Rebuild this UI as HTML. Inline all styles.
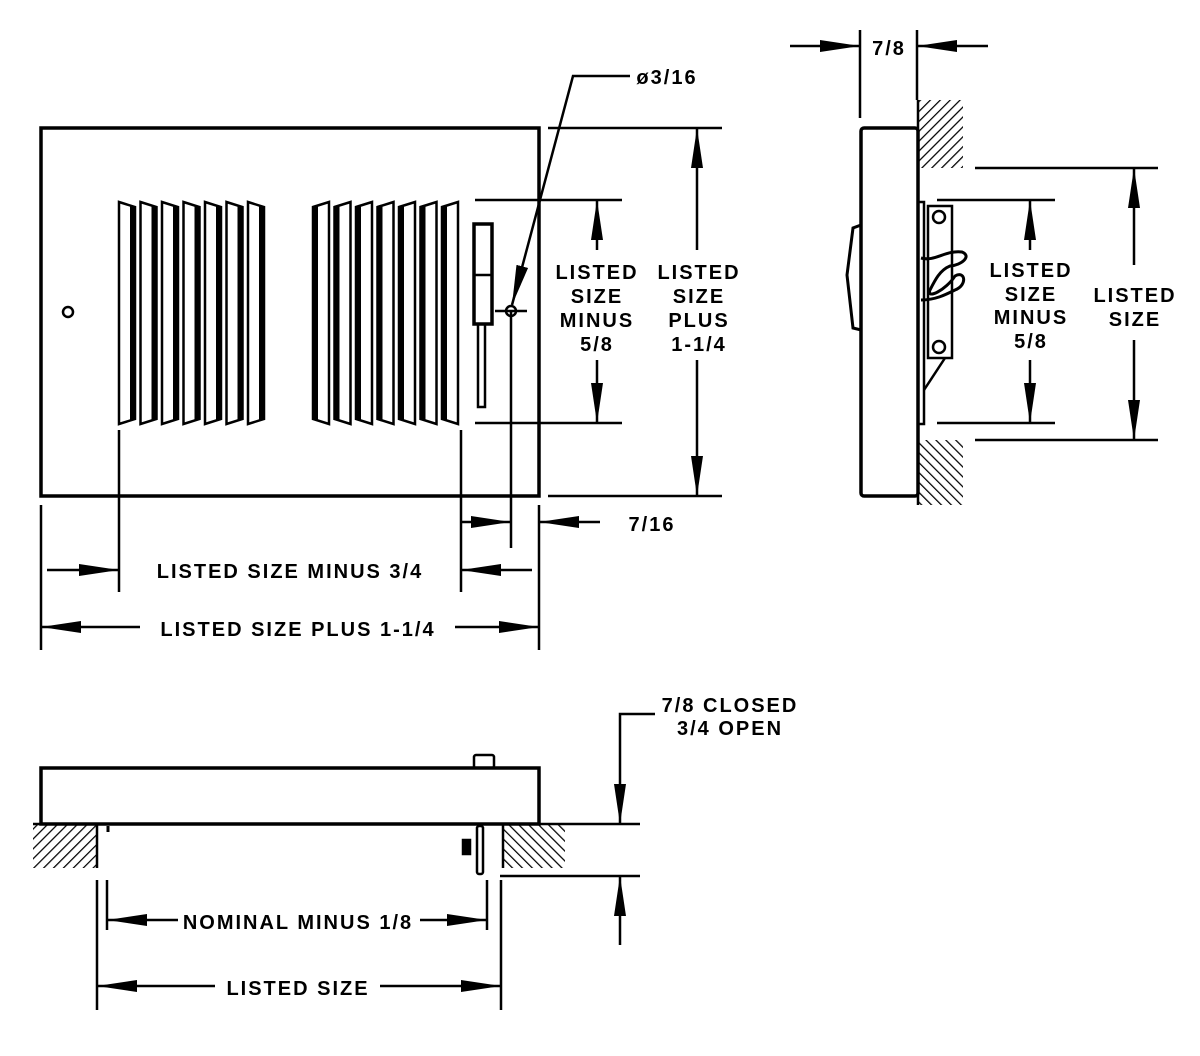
<!DOCTYPE html>
<html><head><meta charset="utf-8"><style>
html,body{margin:0;padding:0;background:#fff;}
svg{display:block}
text{font-family:"Liberation Sans",sans-serif;font-size:20px;font-weight:bold;letter-spacing:2px;fill:#000;text-anchor:middle}
</style></head><body>
<svg width="1200" height="1056" viewBox="0 0 1200 1056" xmlns="http://www.w3.org/2000/svg">
<defs>
<marker id="b" viewBox="0 0 40 12" refX="40" refY="6" markerWidth="40" markerHeight="12" markerUnits="userSpaceOnUse" orient="auto"><path d="M0,0 L40,6 L0,12 z" fill="#000"/></marker>
<pattern id="h1" width="7" height="7" patternUnits="userSpaceOnUse" patternTransform="rotate(45)"><line x1="0" y1="0" x2="0" y2="7" stroke="#000" stroke-width="2.5"/></pattern>
<pattern id="h2" width="7" height="7" patternUnits="userSpaceOnUse" patternTransform="rotate(-45)"><line x1="0" y1="0" x2="0" y2="7" stroke="#000" stroke-width="2.5"/></pattern>
</defs>
<g fill="none" stroke="#000" stroke-width="2.5">
<!-- front view -->
<rect x="41" y="128" width="498" height="368" stroke-width="3.5"/>
<circle cx="68" cy="312" r="5"/>
<g stroke-width="2.5">
<g id="L">
<polygon points="119,202 135,207 135,419 119,424"/><line x1="132" y1="206" x2="132" y2="420" stroke-width="4"/>
</g>
<use href="#L" x="21.5"/><use href="#L" x="43"/><use href="#L" x="64.5"/><use href="#L" x="86"/><use href="#L" x="107.5"/><use href="#L" x="129"/>
<g id="R">
<polygon points="313,207 329,202 329,424 313,419"/><line x1="316" y1="206" x2="316" y2="420" stroke-width="4"/>
</g>
<use href="#R" x="21.5"/><use href="#R" x="43"/><use href="#R" x="64.5"/><use href="#R" x="86"/><use href="#R" x="107.5"/><use href="#R" x="129"/>
</g>
<rect x="474" y="224" width="18" height="100" stroke-width="3.5"/>
<line x1="474" y1="275" x2="492" y2="275"/>
<rect x="478" y="324" width="7" height="83"/>
<circle cx="511" cy="311" r="5"/>
<line x1="495" y1="311" x2="527" y2="311"/>
<line x1="511" y1="311" x2="511" y2="548"/>
<polyline points="630,76 573,76 512,305" marker-end="url(#b)"/>
<line x1="475" y1="200" x2="622" y2="200"/>
<line x1="475" y1="423" x2="622" y2="423"/>
<line x1="597" y1="250" x2="597" y2="200" marker-end="url(#b)"/>
<line x1="597" y1="360" x2="597" y2="423" marker-end="url(#b)"/>
<line x1="548" y1="128" x2="722" y2="128"/>
<line x1="548" y1="496" x2="722" y2="496"/>
<line x1="697" y1="250" x2="697" y2="128" marker-end="url(#b)"/>
<line x1="697" y1="360" x2="697" y2="496" marker-end="url(#b)"/>
<line x1="41" y1="505" x2="41" y2="650"/>
<line x1="539" y1="505" x2="539" y2="650"/>
<line x1="119" y1="430" x2="119" y2="592"/>
<line x1="461" y1="430" x2="461" y2="592"/>
<line x1="461" y1="522" x2="511" y2="522" marker-end="url(#b)"/>
<line x1="600" y1="522" x2="539" y2="522" marker-end="url(#b)"/>
<line x1="47" y1="570" x2="119" y2="570" marker-end="url(#b)"/>
<line x1="532" y1="570" x2="461" y2="570" marker-end="url(#b)"/>
<line x1="140" y1="627" x2="41" y2="627" marker-end="url(#b)"/>
<line x1="455" y1="627" x2="539" y2="627" marker-end="url(#b)"/>
<!-- side view -->
<line x1="860" y1="30" x2="860" y2="118"/>
<line x1="917" y1="30" x2="917" y2="100"/>
<line x1="790" y1="46" x2="860" y2="46" marker-end="url(#b)"/>
<line x1="988" y1="46" x2="917" y2="46" marker-end="url(#b)"/>
<rect x="918" y="100" width="45" height="68" fill="url(#h1)" stroke="none"/>
<rect x="918" y="440" width="45" height="65" fill="url(#h2)" stroke="none"/>
<line x1="918" y1="100" x2="918" y2="505"/>
<rect x="861" y="128" width="57" height="368" rx="3" stroke-width="3.5"/>
<polygon points="861,225 853,228 847,275 853,328 861,330" stroke-width="3"/>
<rect x="918" y="202" width="6" height="222"/>
<rect x="928" y="206" width="24" height="152"/>
<circle cx="939" cy="217" r="6"/><circle cx="939" cy="347" r="6"/>
<path d="M921,258 C935,262 945,250 962,252 C972,256 962,265 950,266 C940,270 935,280 930,290 C926,300 946,290 955,276 C965,270 968,285 955,290 C945,295 935,300 921,300" stroke-width="3"/>
<line x1="945" y1="358" x2="924" y2="390"/>
<line x1="975" y1="168" x2="1158" y2="168"/>
<line x1="975" y1="440" x2="1158" y2="440"/>
<line x1="937" y1="200" x2="1055" y2="200"/>
<line x1="937" y1="423" x2="1055" y2="423"/>
<line x1="1030" y1="250" x2="1030" y2="200" marker-end="url(#b)"/>
<line x1="1030" y1="360" x2="1030" y2="423" marker-end="url(#b)"/>
<line x1="1134" y1="265" x2="1134" y2="168" marker-end="url(#b)"/>
<line x1="1134" y1="340" x2="1134" y2="440" marker-end="url(#b)"/>
<!-- bottom view -->
<rect x="33" y="824" width="64" height="44" fill="url(#h1)" stroke="none"/>
<rect x="503" y="824" width="62" height="44" fill="url(#h2)" stroke="none"/>
<rect x="41" y="768" width="498" height="56" stroke-width="3.5"/>
<rect x="474" y="755" width="20" height="13" rx="2"/>
<line x1="33" y1="824" x2="640" y2="824"/>
<line x1="97" y1="824" x2="97" y2="868"/>
<line x1="503" y1="824" x2="503" y2="868"/>
<rect x="477" y="826" width="6" height="48" rx="2"/>
<rect x="463" y="840" width="7" height="14" fill="#000"/>
<line x1="108" y1="826" x2="108" y2="832" stroke-width="3"/>
<line x1="500" y1="876" x2="640" y2="876"/>
<polyline points="655,714 620,714 620,824" marker-end="url(#b)"/>
<line x1="620" y1="945" x2="620" y2="876" marker-end="url(#b)"/>
<line x1="97" y1="880" x2="97" y2="1010"/>
<line x1="107" y1="880" x2="107" y2="930"/>
<line x1="487" y1="880" x2="487" y2="930"/>
<line x1="501" y1="880" x2="501" y2="1010"/>
<line x1="178" y1="920" x2="107" y2="920" marker-end="url(#b)"/>
<line x1="420" y1="920" x2="487" y2="920" marker-end="url(#b)"/>
<line x1="215" y1="986" x2="97" y2="986" marker-end="url(#b)"/>
<line x1="380" y1="986" x2="501" y2="986" marker-end="url(#b)"/>
</g>
<text x="667" y="84">ø3/16</text>
<text x="597" y="279">LISTED</text><text x="597" y="303">SIZE</text><text x="597" y="327">MINUS</text><text x="597" y="351">5/8</text>
<text x="699" y="279">LISTED</text><text x="699" y="303">SIZE</text><text x="699" y="327">PLUS</text><text x="699" y="351">1-1/4</text>
<text x="652" y="531">7/16</text>
<text x="290" y="578">LISTED SIZE MINUS 3/4</text>
<text x="298" y="636">LISTED SIZE PLUS 1-1/4</text>
<text x="889" y="55">7/8</text>
<text x="1031" y="277">LISTED</text><text x="1031" y="301">SIZE</text><text x="1031" y="324">MINUS</text><text x="1031" y="348">5/8</text>
<text x="1135" y="302">LISTED</text><text x="1135" y="326">SIZE</text>
<text x="730" y="712">7/8 CLOSED</text><text x="730" y="735">3/4 OPEN</text>
<text x="298" y="929">NOMINAL MINUS 1/8</text>
<text x="298" y="995">LISTED SIZE</text>
</svg>
</body></html>
